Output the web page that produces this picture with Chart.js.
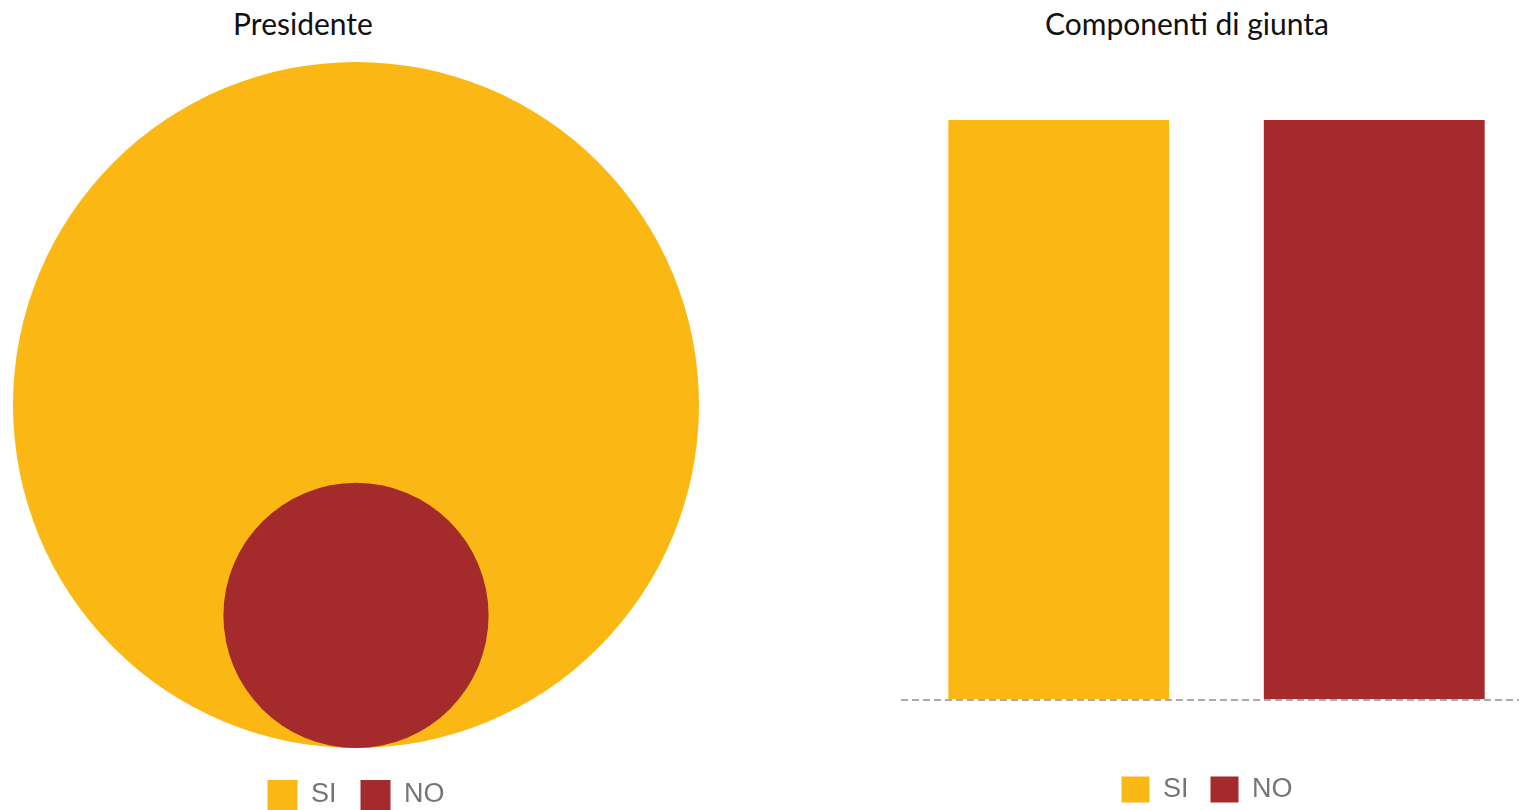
<!DOCTYPE html>
<html>
<head>
<meta charset="utf-8">
<title>Presidente / Componenti di giunta</title>
<script src="https://cdn.jsdelivr.net/npm/chart.js@4"></script>
<style>
    html, body { margin: 0; padding: 0; background: #fff; width: 1519px; height: 810px; overflow: hidden; }
    .chart-title {
        position: absolute;
        top: 5px;
        transform: translateX(-50%);
        font-family: Lato, "Open Sans", sans-serif;
        font-size: 30px;
        color: #111;
        white-space: nowrap;
    }
    #presWrap { position: absolute; left: 0; top: 0; width: 712px; height: 820px; }
    #giuntaWrap { position: absolute; left: 882px; top: 0; width: 650px; height: 813px; }
</style>
</head>
<body>
<div class="chart-title" style="left:303px">Presidente</div>
<div class="chart-title" style="left:1187px">Componenti di giunta</div>
<div id="presWrap"><canvas id="presChart"></canvas></div>
<div id="giuntaWrap"><canvas id="giuntaChart"></canvas></div>
<script>
const answers = ['SI', 'NO'];
const answerColors = ['#FBB714', '#A52A2B'];
const presidenteValues = [87, 13];
const giuntaValues = [50, 50];

Chart.defaults.font.family = '"Liberation Sans", Arial, sans-serif';
Chart.defaults.animation = false;

const legendLabels = (box, boxH, gap) => ({
    boxWidth: box,
    boxHeight: boxH,
    padding: gap,
    color: '#757575',
    font: { size: 27 },
    sort: (a, b) => a.datasetIndex - b.datasetIndex
});

// Presidente: circle areas proportional to the values, all resting on the same bottom point
const presMax = Math.max(...presidenteValues);
const presRadius = presidenteValues.map(v => Math.sqrt(v / presMax)); // in y units, largest = 1

new Chart(document.getElementById('presChart'), {
    type: 'scatter',
    data: {
        datasets: answers.map((label, i) => ({
            label: label,
            data: [{ x: 0, y: presRadius[i] }],
            backgroundColor: answerColors[i],
            borderWidth: 0,
            pointRadius: ctx => {
                const y = ctx.chart.scales.y;
                return y.getPixelForValue(0) - y.getPixelForValue(presRadius[i]);
            },
            order: answers.length - i,   // smaller circles drawn on top
            clip: false
        }))
    },
    options: {
        responsive: true,
        maintainAspectRatio: false,
        events: [],
        layout: { padding: { left: 13, right: 13, top: 62 } },
        scales: {
            x: {
                type: 'linear', min: -1, max: 1,
                ticks: { display: false },
                grid: { display: false, drawTicks: false },
                border: { display: false },
                afterFit: s => { s.height = 8; }
            },
            y: { type: 'linear', min: 0, max: 2, display: false }
        },
        plugins: {
            tooltip: { enabled: false },
            legend: { position: 'bottom', labels: legendLabels(30, 30, 24) }
        }
    }
});

// Componenti di giunta: two side by side bars on a dashed baseline
new Chart(document.getElementById('giuntaChart'), {
    type: 'bar',
    data: {
        labels: [''],
        datasets: answers.map((label, i) => ({
            label: label,
            data: [giuntaValues[i]],
            backgroundColor: answerColors[i],
            borderWidth: 0,
            barPercentage: 0.7,
            categoryPercentage: 1
        }))
    },
    options: {
        responsive: true,
        maintainAspectRatio: false,
        events: [],
        layout: { padding: { top: 120 } },
        scales: {
            x: {
                ticks: { display: false },
                grid: { display: false, drawTicks: false },
                border: { display: false },
                afterFit: s => { s.height = 54; }
            },
            y: {
                min: 0,
                max: Math.max(...giuntaValues),
                ticks: { display: false },
                grid: {
                    drawTicks: false,
                    lineWidth: 2,
                    color: ctx => (ctx.tick && ctx.tick.value === 0) ? '#ababab' : 'rgba(0,0,0,0)'
                },
                border: { display: false, dash: [7, 4] },
                afterFit: s => { s.width = 19; }
            }
        },
        plugins: {
            tooltip: { enabled: false },
            legend: { position: 'bottom', labels: legendLabels(28, 26, 22) }
        }
    }
});
</script>
</body>
</html>
